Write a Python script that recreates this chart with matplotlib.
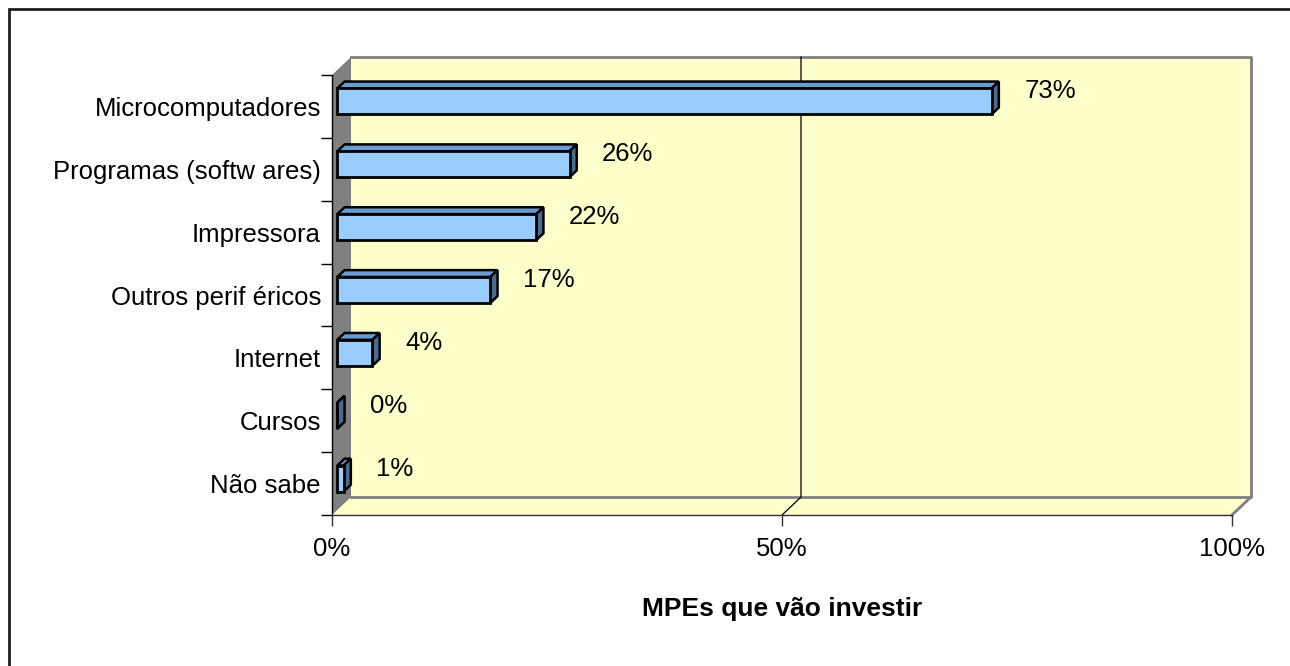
import matplotlib
matplotlib.use("Agg")
import matplotlib.pyplot as plt
import matplotlib.transforms as mtransforms
from matplotlib.patches import Polygon, Rectangle
import numpy as np

# ---- data ----
categories = ["Microcomputadores", "Programas (softw ares)", "Impressora",
              "Outros perif éricos", "Internet", "Cursos", "Não sabe"]
values = [72.7, 25.8, 22.1, 17.0, 3.9, 0.0, 0.7]
value_labels = ["73%", "26%", "22%", "17%", "4%", "0%", "1%"]
x_ticks = [0, 50, 100]
x_tick_labels = ["0%", "50%", "100%"]
x_title = "MPEs que vão investir"

# ---- style ----
W, H, DPI = 1290, 666, 100
FONT = "Liberation Sans"
FS = 18.5
WALL = "#FFFFCC"
WALL_EDGE = "#808080"
SIDE = "#808080"
BAR_FRONT = "#99CCFF"
BAR_TOP = "#6A9BD1"
BAR_SIDE = "#4A6A90"
DEPTH = np.array([19.0, 18.0])   # pixels for full depth
BAR_D0, BAR_D1 = 0.28, 0.66       # bar depth range (fraction)
BAR_H_PX = 26.0

fig = plt.figure(figsize=(W / DPI, H / DPI), dpi=DPI)
fig.patch.set_facecolor("white")

# front plane in pixels
x0, x1, ytop, ybot = 332, 1232, 75, 515
ax = fig.add_axes([x0 / W, (H - ybot) / H, (x1 - x0) / W, (ybot - ytop) / H])
ax.set_facecolor("none")
ax.set_zorder(10)
n = len(categories)
ax.set_xlim(0, 100)
ax.set_ylim(-0.5, n - 0.5)
ypos = np.arange(n)[::-1]  # first category at top

for s in ["top", "right"]:
    ax.spines[s].set_visible(False)
ax.spines["left"].set_color("black")
ax.spines["left"].set_linewidth(1.0)
ax.spines["bottom"].set_color("#303030")
ax.spines["bottom"].set_linewidth(1.0)

ax.set_xticks(x_ticks)
ax.set_xticklabels(x_tick_labels, fontsize=FS, family=FONT)
ax.tick_params(axis="x", direction="out", length=8, width=1, color="#303030", pad=8)
ax.set_yticks(ypos)
ax.set_yticklabels(categories, fontsize=FS, family=FONT)
ax.tick_params(axis="y", which="major", length=0, pad=8)
ax.set_yticks(np.arange(n + 1) - 0.5, minor=True)
ax.tick_params(axis="y", which="minor", direction="out", length=8, width=1, color="black")

ax.set_xlabel(x_title, fontsize=19, family=FONT, fontweight="bold", labelpad=26)

fig.canvas.draw()
T = ax.transData
ident = mtransforms.IdentityTransform()
ymin, ymax = ax.get_ylim()


def P(x, y, d=0.0, dy_px=0.0):
    p = T.transform((x, y))
    return (p[0] + DEPTH[0] * d, p[1] + DEPTH[1] * d + dy_px)


def poly(pts, fc, ec="none", lw=0.0, z=1):
    pg = Polygon(pts, closed=True, facecolor=fc, edgecolor=ec, linewidth=lw,
                 transform=ident, zorder=z, clip_on=False, joinstyle="miter")
    fig.add_artist(pg)


def line(pts, c, lw, z=2):
    xs, ys = zip(*pts)
    fig.add_artist(plt.Line2D(xs, ys, color=c, linewidth=lw, transform=ident, zorder=z))


# back wall
poly([P(0, ymin, 1), P(100, ymin, 1), P(100, ymax, 1), P(0, ymax, 1)], WALL, z=0.5)
# floor
poly([P(0, ymin, 0), P(100, ymin, 0), P(100, ymin, 1), P(0, ymin, 1)], WALL, z=0.5)
# side wall
poly([P(0, ymin, 0), P(0, ymax, 0), P(0, ymax, 1), P(0, ymin, 1)], SIDE, z=0.6)
# wall edges
line([P(0, ymax, 1), P(100, ymax, 1), P(100, ymin, 1), P(0, ymin, 1)], WALL_EDGE, 2.0, z=0.7)
line([P(100, ymin, 1), P(100, ymin, 0)], WALL_EDGE, 2.0, z=0.7)
# gridline at 50%
line([P(50, ymin, 0), P(50, ymin, 1), P(50, ymax, 1)], "black", 0.9, z=0.8)

# bars
hh = BAR_H_PX / 2.0
for yv, v, lab in zip(ypos, values, value_labels):
    fb = P(0, yv, BAR_D0, -hh)
    ft = P(0, yv, BAR_D0, hh)
    eb = P(v, yv, BAR_D0, -hh)
    et = P(v, yv, BAR_D0, hh)
    bt0 = P(0, yv, BAR_D1, hh)
    bte = P(v, yv, BAR_D1, hh)
    bbe = P(v, yv, BAR_D1, -hh)
    poly([ft, et, bte, bt0], BAR_TOP, "black", 1.8, z=3)
    poly([eb, et, bte, bbe], BAR_SIDE, "black", 1.8, z=3)
    poly([fb, eb, et, ft], BAR_FRONT, "black", 2.0, z=3.1)
    ax.annotate(lab, xy=(v, yv), xytext=(38, 15), textcoords="offset pixels",
                ha="left", va="center", fontsize=FS, family=FONT, color="black",
                annotation_clip=False)

# outer border (top-left corner at (9, 9) px from top-left; extends past the right/bottom edge)
fig.add_artist(Rectangle((9, -20), W + 40, (H - 9) + 20, fill=False,
                         edgecolor="#202020", linewidth=2, transform=ident))

fig.savefig("out.png", dpi=DPI)
